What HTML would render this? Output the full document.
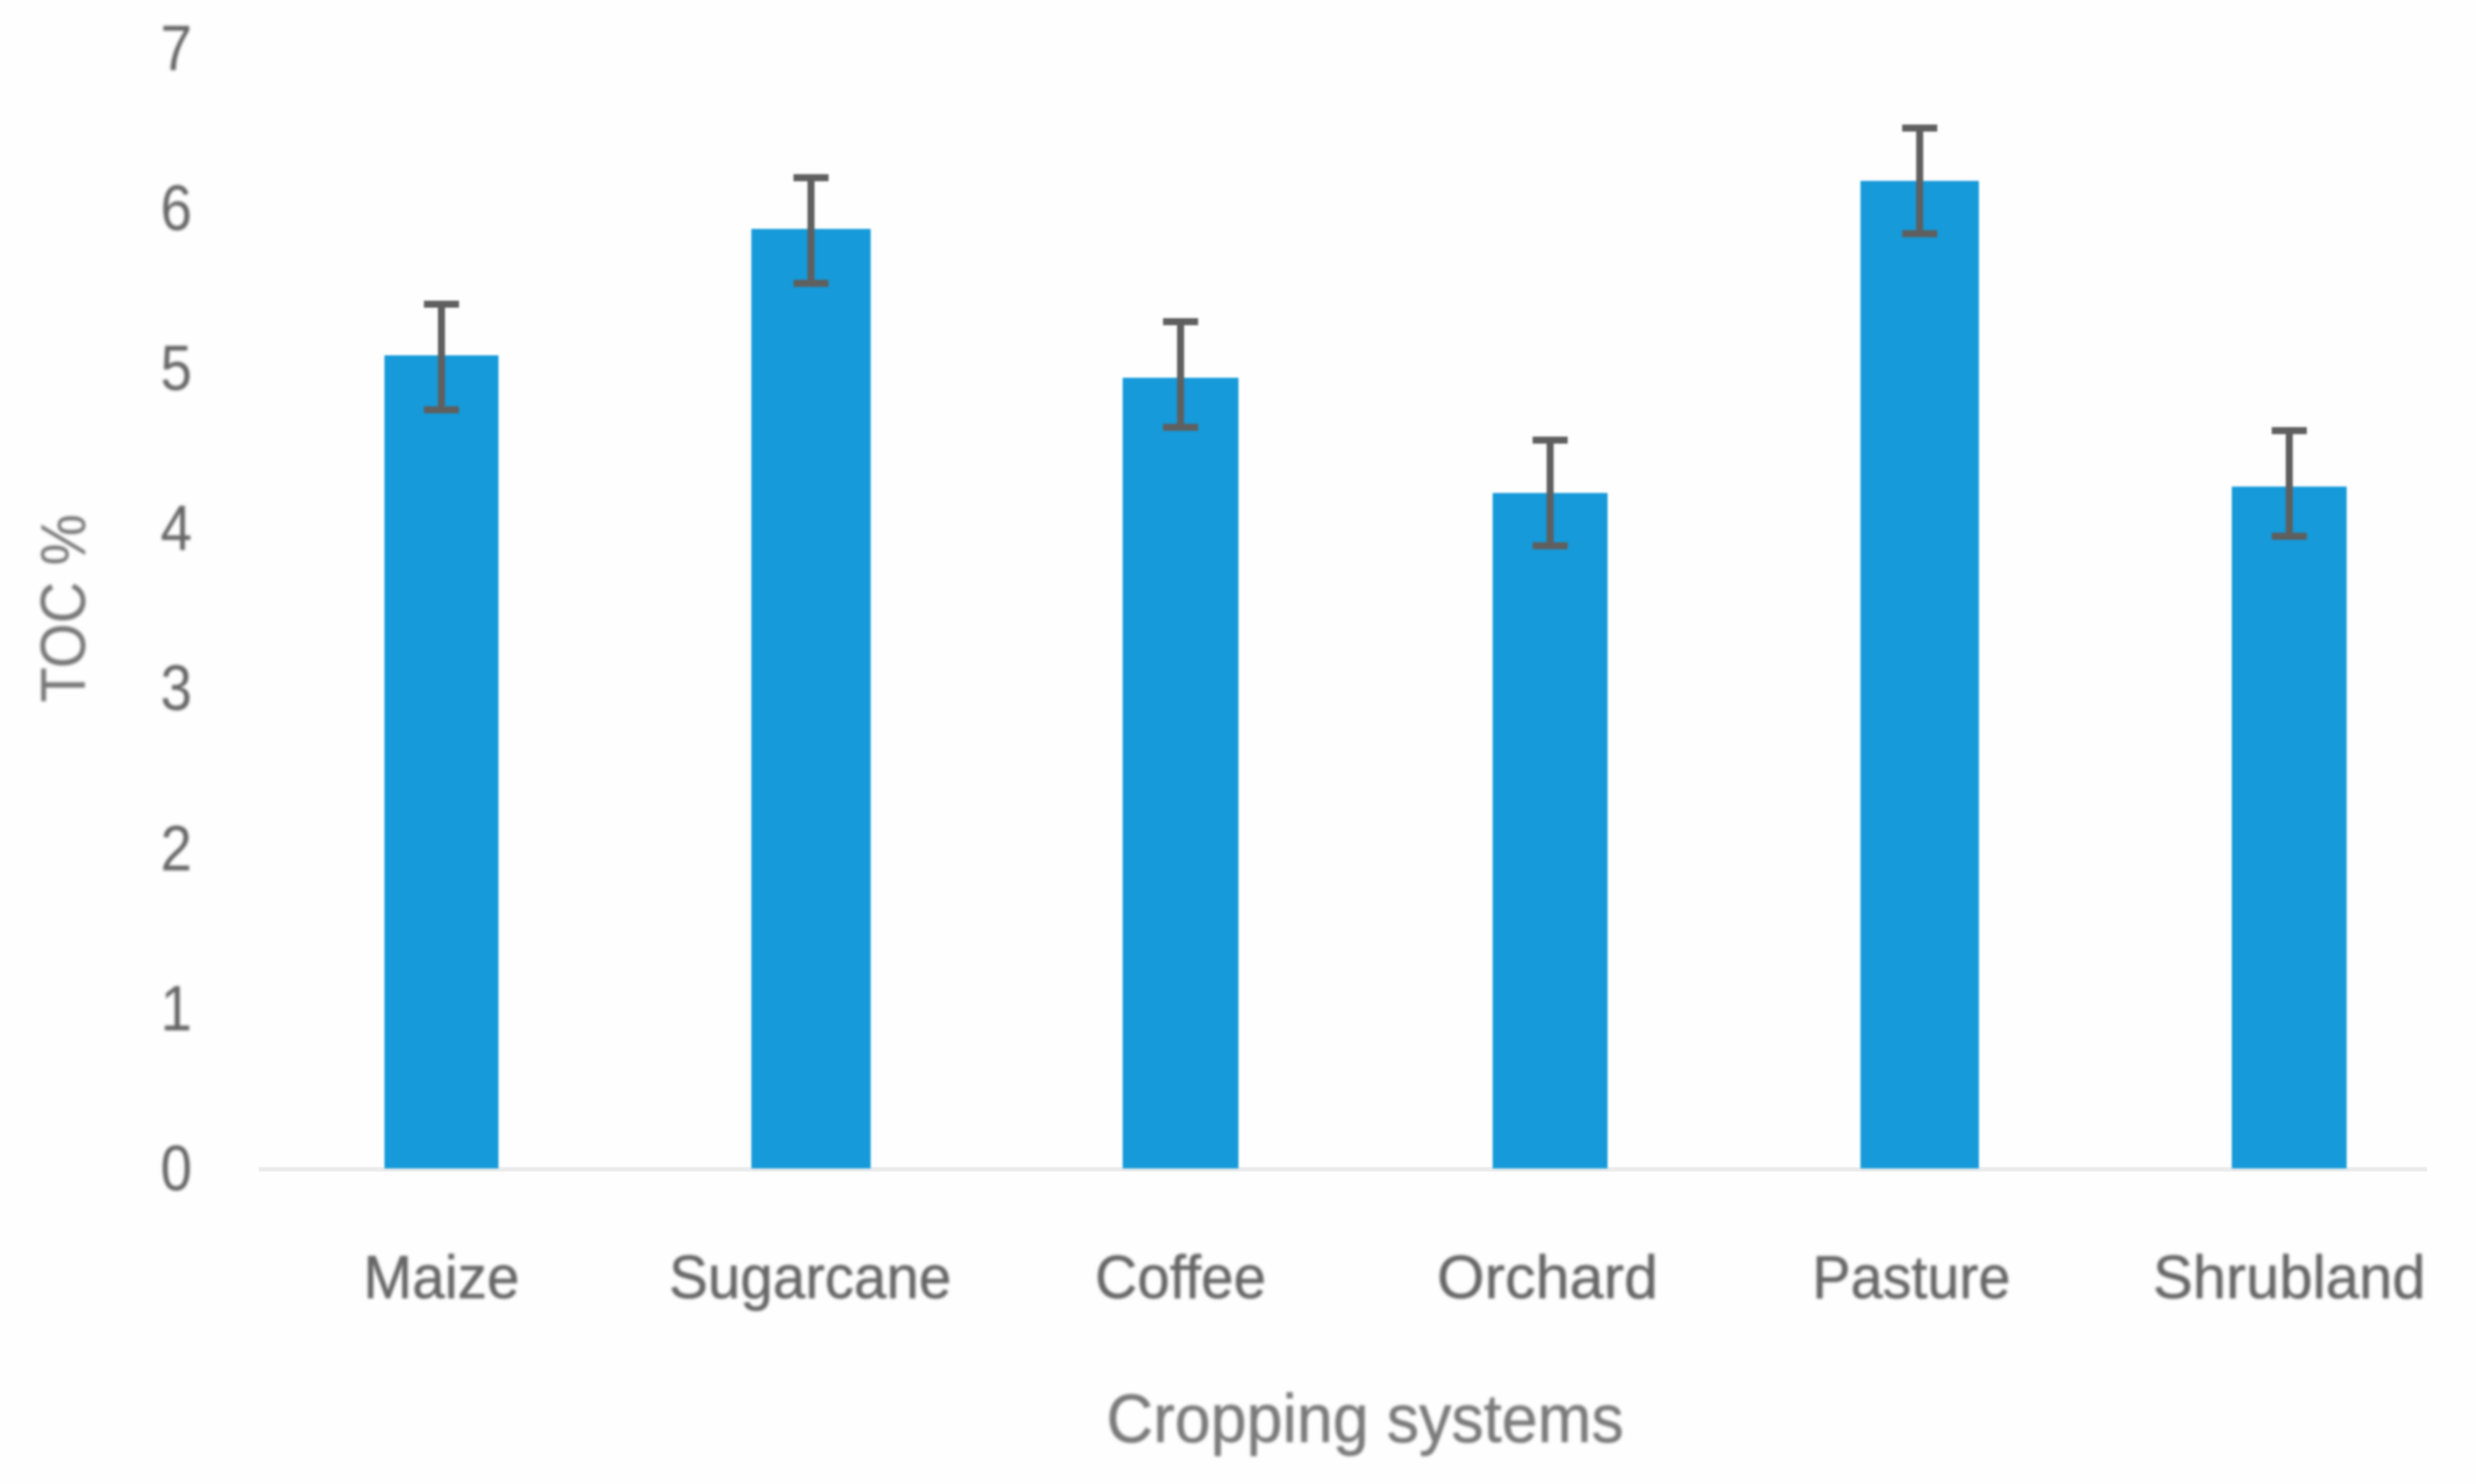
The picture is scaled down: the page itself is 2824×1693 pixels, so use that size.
<!DOCTYPE html>
<html lang="en">
<head>
<meta charset="utf-8">
<title>TOC % by cropping system</title>
<style>
  html, body { margin: 0; padding: 0; background: #fefefe; }
  #chart { display: block; width: 2824px; height: 1693px; }
  text { font-family: "Liberation Sans", "DejaVu Sans", sans-serif; }
</style>
</head>
<body>
<svg id="chart" xmlns="http://www.w3.org/2000/svg" width="2824" height="1693" viewBox="0 0 2824 1693">
  <defs>
    <filter id="soft-text" x="-10%" y="-10%" width="120%" height="120%"><feGaussianBlur stdDeviation="1.7"/></filter>
    <filter id="soft-mark" x="-10%" y="-10%" width="120%" height="120%"><feGaussianBlur stdDeviation="1"/></filter>
  </defs>
  <rect x="0" y="0" width="2824" height="1693" fill="#fefefe"/>
  <g id="axis-layer"></g>
  <g id="bar-layer" filter="url(#soft-mark)"></g>
  <g id="error-layer" filter="url(#soft-mark)"></g>
  <g id="text-layer" filter="url(#soft-text)">
    <text x="1557" y="1645" text-anchor="middle" font-size="78" fill="#7a7a7a" stroke="#7a7a7a" stroke-width="0.6" textLength="590" lengthAdjust="spacingAndGlyphs">Cropping systems</text>
    <text transform="translate(97 694) rotate(-90)" text-anchor="middle" font-size="72" fill="#777777" textLength="215" lengthAdjust="spacingAndGlyphs">TOC %</text>
  </g>
</svg>
<script>
const categories = ["Maize", "Sugarcane", "Coffee", "Orchard", "Pasture", "Shrubland"];
const tocValues = [5.08, 5.87, 4.94, 4.22, 6.17, 4.26];
const errorHigh = [5.40, 6.19, 5.29, 4.55, 6.50, 4.61];
const errorLow = [4.74, 5.53, 4.63, 3.89, 5.84, 3.95];
const yTickLabels = [0, 1, 2, 3, 4, 5, 6, 7];

const SVG_NS = "http://www.w3.org/2000/svg";
const plot = { left: 295, right: 2768, baseline: 1333, unit: 182.6, firstCentre: 503.5, step: 421.5, capWidth: 40 };
const barWidthByName = { Maize: 130, Sugarcane: 136, Coffee: 132, Orchard: 131, Pasture: 135, Shrubland: 131 };
const labelLayout = {
  Maize: { width: 178, nudge: 0 },
  Sugarcane: { width: 322, nudge: -1 },
  Coffee: { width: 195, nudge: 0 },
  Orchard: { width: 252, nudge: -3 },
  Pasture: { width: 226, nudge: -9.5 },
  Shrubland: { width: 311, nudge: 0 }
};

function yScale(v) { return plot.baseline - v * plot.unit; }
function xScale(i) { return plot.firstCentre + i * plot.step; }
function make(tag, attrs) {
  const el = document.createElementNS(SVG_NS, tag);
  for (const k in attrs) el.setAttribute(k, attrs[k]);
  return el;
}

const axisLayer = document.getElementById("axis-layer");
const barLayer = document.getElementById("bar-layer");
const errorLayer = document.getElementById("error-layer");
const textLayer = document.getElementById("text-layer");

const axisLine = make("line", { x1: plot.left, x2: plot.right, y1: yScale(0) + 1, y2: yScale(0) + 1, stroke: "#ebebeb", "stroke-width": 5 });


axisLayer.appendChild(axisLine);

yTickLabels.forEach(function (t) {
  const label = make("text", { x: 201, y: yScale(t) + 25, "text-anchor": "middle", "font-size": 73, fill: "#666666", textLength: 36, lengthAdjust: "spacingAndGlyphs" });
  label.textContent = String(t);
  
  
  textLayer.appendChild(label);
});

categories.forEach(function (name, i) {
  const cx = xScale(i);
  const top = yScale(tocValues[i]);
  const barWidth = barWidthByName[name];

  const bar = make("rect", { x: cx - barWidth / 2, y: top, width: barWidth, height: yScale(0) - top, fill: "#189ad9" });
  
  
  barLayer.appendChild(bar);

  const hi = yScale(errorHigh[i]);
  const lo = yScale(errorLow[i]);
  const errPath = make("path", {
    d: "M" + cx + " " + hi + "V" + lo +
       "M" + (cx - plot.capWidth / 2) + " " + hi + "H" + (cx + plot.capWidth / 2) +
       "M" + (cx - plot.capWidth / 2) + " " + lo + "H" + (cx + plot.capWidth / 2),
    fill: "none", stroke: "#5e5e5e", "stroke-width": 8
  });
  
  
  errorLayer.appendChild(errPath);

  const layout = labelLayout[name];
  const label = make("text", { x: cx + layout.nudge, y: 1481, "text-anchor": "middle", "font-size": 70, fill: "#666666", stroke: "#666666", "stroke-width": 0.6, textLength: layout.width, lengthAdjust: "spacingAndGlyphs" });
  label.textContent = name;
  
  
  textLayer.appendChild(label);
});
</script>
</body>
</html>
